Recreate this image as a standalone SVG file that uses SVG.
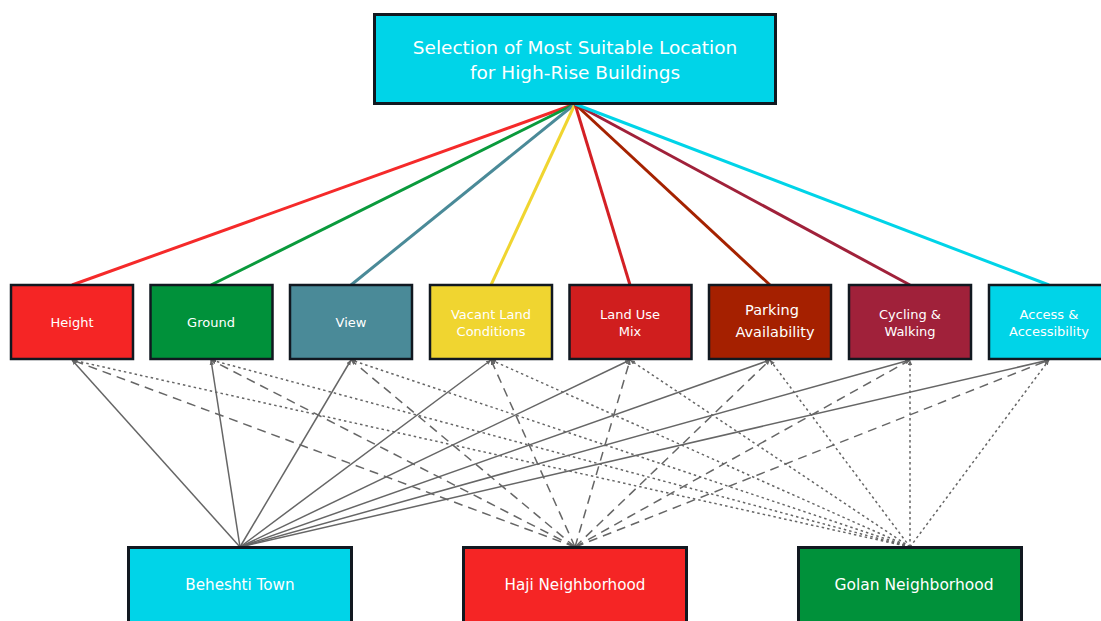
<svg xmlns="http://www.w3.org/2000/svg" width="1101" height="621" viewBox="0 0 1101 621">
<style>
.box{stroke:#111820;stroke-width:2.5}
.t{fill:#ffffff;font-family:"DejaVu Sans",sans-serif;text-anchor:middle}
.c{font-size:13px}
.top{stroke-width:3}
.alt{font-size:15.2px}
.e{fill:none;stroke:#666;stroke-width:1.5}
.s{marker-end:url(#ah)}
.d{stroke-dasharray:9 6;marker-end:url(#ah)}
.o{stroke-dasharray:2.5 3;marker-end:url(#ah)}
.k{fill:none;stroke-width:3}
</style>
<defs>
<marker id="ah" markerUnits="userSpaceOnUse" markerWidth="6" markerHeight="5" refX="5" refY="2.2" orient="auto">
<path d="M0,0 L5,2.2 L0,4.4 z" fill="#666"/>
</marker>
</defs>
<rect width="1101" height="621" fill="#ffffff"/>
<g id="connectors">
<g id="top-links">
<line class="k" x1="575" y1="104" x2="72" y2="285" stroke="#F52A2A"/>
<line class="k" x1="575" y1="104" x2="211" y2="285" stroke="#0A9A3C"/>
<line class="k" x1="575" y1="104" x2="351" y2="285" stroke="#4A8A98"/>
<line class="k" x1="575" y1="104" x2="491" y2="285" stroke="#F0D530"/>
<line class="k" x1="575" y1="104" x2="630" y2="285" stroke="#D42025"/>
<line class="k" x1="575" y1="104" x2="770" y2="285" stroke="#A52200"/>
<line class="k" x1="575" y1="104" x2="910" y2="285" stroke="#A0213A"/>
<line class="k" x1="575" y1="104" x2="1049" y2="285" stroke="#00D4E8"/>
</g>
<g id="beheshti-links">
<line class="e s" x1="240" y1="547" x2="72" y2="360"/>
<line class="e s" x1="240" y1="547" x2="211" y2="360"/>
<line class="e s" x1="240" y1="547" x2="351" y2="360"/>
<line class="e s" x1="240" y1="547" x2="491" y2="360"/>
<line class="e s" x1="240" y1="547" x2="630" y2="360"/>
<line class="e s" x1="240" y1="547" x2="770" y2="360"/>
<line class="e s" x1="240" y1="547" x2="910" y2="360"/>
<line class="e s" x1="240" y1="547" x2="1049" y2="360"/>
</g>
<g id="haji-links">
<line class="e d" x1="575" y1="547" x2="72" y2="360"/>
<line class="e d" x1="575" y1="547" x2="211" y2="360"/>
<line class="e d" x1="575" y1="547" x2="351" y2="360"/>
<line class="e d" x1="575" y1="547" x2="491" y2="360"/>
<line class="e d" x1="575" y1="547" x2="630" y2="360"/>
<line class="e d" x1="575" y1="547" x2="770" y2="360"/>
<line class="e d" x1="575" y1="547" x2="910" y2="360"/>
<line class="e d" x1="575" y1="547" x2="1049" y2="360"/>
</g>
<g id="golan-links">
<line class="e o" x1="910" y1="547" x2="72" y2="360"/>
<line class="e o" x1="910" y1="547" x2="211" y2="360"/>
<line class="e o" x1="910" y1="547" x2="351" y2="360"/>
<line class="e o" x1="910" y1="547" x2="491" y2="360"/>
<line class="e o" x1="910" y1="547" x2="630" y2="360"/>
<line class="e o" x1="910" y1="547" x2="770" y2="360"/>
<line class="e o" x1="910" y1="547" x2="910" y2="360"/>
<line class="e o" x1="910" y1="547" x2="1049" y2="360"/>
</g>
</g>
<g id="goal">
<rect class="box top" x="374.5" y="14.5" width="401" height="89" fill="#00D4E8"/>
<text class="t" x="575" y="54" font-size="18.5">Selection of Most Suitable Location</text>
<text class="t" x="575" y="79" font-size="18.5">for High-Rise Buildings</text>
</g>
<g id="c-height">
<rect class="box" x="11" y="285" width="122" height="74" fill="#F52525"/>
<text class="t c" x="72" y="327">Height</text>
</g>
<g id="c-ground">
<rect class="box" x="150.5" y="285" width="122" height="74" fill="#00913A"/>
<text class="t c" x="211" y="327">Ground</text>
</g>
<g id="c-view">
<rect class="box" x="290" y="285" width="122" height="74" fill="#4A8A98"/>
<text class="t c" x="351" y="327">View</text>
</g>
<g id="c-vacant">
<rect class="box" x="430" y="285" width="122" height="74" fill="#F0D530"/>
<text class="t c" x="491" y="319">Vacant Land</text>
<text class="t c" x="491" y="336">Conditions</text>
</g>
<g id="c-landuse">
<rect class="box" x="569.5" y="285" width="122" height="74" fill="#D01E1E"/>
<text class="t c" x="630" y="319">Land Use</text>
<text class="t c" x="630" y="336">Mix</text>
</g>
<g id="c-parking">
<rect class="box" x="709" y="285" width="122" height="74" fill="#A52000"/>
<text class="t" x="772" y="315" font-size="14.5" font-family="Open Sans, sans-serif">Parking</text>
<text class="t" x="775" y="337" font-size="14.5" font-family="Open Sans, sans-serif">Availability</text>
</g>
<g id="c-cycling">
<rect class="box" x="849" y="285" width="122" height="74" fill="#A0213A"/>
<text class="t c" x="910" y="319">Cycling &amp;</text>
<text class="t c" x="910" y="336">Walking</text>
</g>
<g id="c-access">
<rect class="box" x="989" y="285" width="122" height="74" fill="#00D4E8"/>
<text class="t c" x="1049" y="319">Access &amp;</text>
<text class="t c" x="1049" y="336">Accessibility</text>
</g>
<g id="a-beheshti">
<rect class="box top" x="128.5" y="547.5" width="223" height="80" fill="#00D4E8"/>
<text class="t alt" x="240" y="590">Beheshti Town</text>
</g>
<g id="a-haji">
<rect class="box top" x="463.5" y="547.5" width="223" height="80" fill="#F52525"/>
<text class="t alt" x="575" y="590">Haji Neighborhood</text>
</g>
<g id="a-golan">
<rect class="box top" x="798.5" y="547.5" width="223" height="80" fill="#00913A"/>
<text class="t" x="914" y="590" font-size="15.5" font-family="Open Sans, sans-serif">Golan Neighborhood</text>
</g>
</svg>
